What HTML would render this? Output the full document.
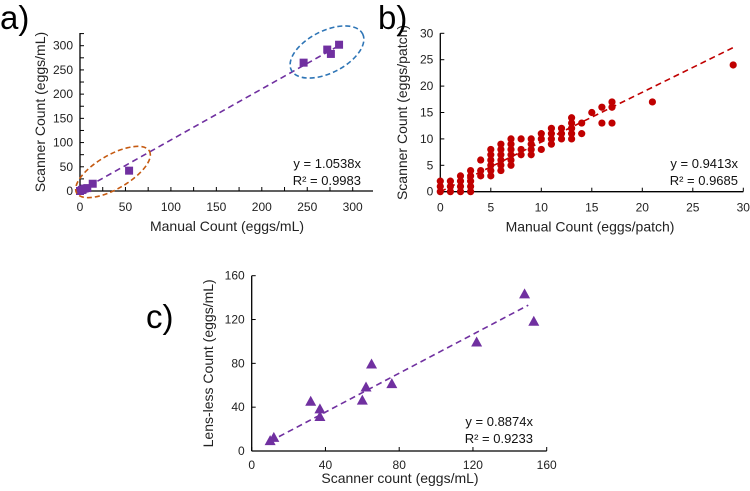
<!DOCTYPE html>
<html><head><meta charset="utf-8">
<style>
html,body{margin:0;padding:0;background:#fff;}
svg{display:block;font-family:"Liberation Sans","DejaVu Sans",sans-serif;}
</style></head>
<body>
<svg id="chart" width="750" height="491" viewBox="0 0 750 491"></svg>
<script>
// ---- Panel a data ----
const aManual = [0, 2, 3, 5, 8, 14, 54, 246, 272, 276, 285];
const aScanner = [0, 2, 3, 5, 6, 15, 42, 265, 292, 283, 302];
const aTicks = [0, 50, 100, 150, 200, 250, 300];
const aSlope = 1.0538;
// ---- Panel b data ----
const bManual = [0,0,0, 1,1,1, 2,2,2,2, 3,3,3,3,3, 4,4,4, 5,5,5,5,5,5, 6,6,6,6,6,6, 7,7,7,7,7,7, 8,8,8, 9,9,9,9, 10,10,10, 11,11,11,11, 12,12,12, 13,13,13,13,13, 14,14, 15, 16,16, 17,17,17, 21, 29];
const bScanner = [0,1,2, 0,1,2, 0,1,2,3, 0,1,2,3,4, 3,4,6, 3,4,5,6,7,8, 4,5,6,7,8,9, 5,6,7,8,9,10, 7,8,10, 7,8,9,10, 8,10,11, 9,10,11,12, 10,11,12, 10,11,12,13,14, 11,13, 15, 13,16, 13,16,17, 17, 24];
const bTicks = [0, 5, 10, 15, 20, 25, 30];
const bSlope = 0.9413;
// ---- Panel c data ----
const cScanner = [10, 12, 32, 37, 37, 60, 62, 65, 76, 122, 148, 153];
const cLensless = [9, 12, 45, 38, 31, 46, 58, 79, 61, 99, 143, 118];
const cTicks = [0, 40, 80, 120, 160];
const cSlope = 0.8874;

const NS = "http://www.w3.org/2000/svg";
const svg = document.getElementById("chart");
function mk(tag, attrs, parent) {
  const e = document.createElementNS(NS, tag);
  for (const k in attrs) e.setAttribute(k, attrs[k]);
  (parent || svg).appendChild(e);
  return e;
}
function txt(s, attrs, parent) { const e = mk("text", attrs, parent); e.textContent = s; return e; }

function panel(o) {
  const g = mk("g", {});
  
  
  const sx = v => o.x0 + (v - 0) / o.max * (o.x1 - o.x0);
  const sy = v => o.y0 - v / o.max * (o.y0 - o.y1);
  const ax = mk("line", {x1:o.x0, y1:o.y0, x2:o.xEnd, y2:o.y0, stroke:"#000", "stroke-width":1.3}, g);
  
  
  const ay = mk("line", {x1:o.x0, y1:o.y0, x2:o.x0, y2:o.yEnd, stroke:"#000", "stroke-width":1.3}, g);
  
  
  const step = o.ticks[1] - o.ticks[0];
  const minor = o.minor ? step / 2 : step;
  for (let v = 0; sx(v) <= o.xEnd + 0.5; v += minor) {
    mk("line", {x1:sx(v), y1:o.y0, x2:sx(v), y2:o.y0 - 4, stroke:"#000"}, g);
  }
  for (let v = 0; sy(v) >= o.yEnd - 0.5; v += minor) {
    mk("line", {x1:o.x0, y1:sy(v), x2:o.x0 + 4, y2:sy(v), stroke:"#000"}, g);
  }
  o.ticks.forEach(v => {
    const tx = txt(String(v), {x:sx(v), y:o.y0 + o.tickOff, "font-size":12, fill:"#222", "text-anchor":"middle"}, g);
    
    
    const ty = txt(String(v), {x:o.x0 - 7, y:sy(v) + 4, "font-size":12, fill:"#222", "text-anchor":"end"}, g);
    
    
  });
  const xt = txt(o.xTitle, {x:o.xtx, y:o.y0 + o.titleOff, "font-size":14, fill:"#222", "text-anchor":"middle"}, g);
  
  
  const yt = txt(o.yTitle, {x:0, y:0, "font-size":14, fill:"#222", "text-anchor":"middle", transform:`translate(${o.ytx},${(o.y0 + o.yEnd) / 2}) rotate(-90)`}, g);
  
  
  const tl = mk("line", {x1:sx(o.tl0), y1:sy(o.tl0 * o.slope), x2:sx(o.tl1), y2:sy(o.tl1 * o.slope), stroke:o.tColor, "stroke-width":1.6, "stroke-dasharray":"6,4"}, g);
  
  
  o.xs.forEach((xv, i) => {
    const px = sx(xv), py = sy(o.ys[i]);
    let p;
    if (o.shape === "square") p = mk("rect", {x:px - 4, y:py - 4, width:8, height:8, fill:o.color}, g);
    else if (o.shape === "circle") p = mk("circle", {cx:px, cy:py, r:3.6, fill:o.color}, g);
    else p = mk("polygon", {points:`${px},${py - 6} ${px - 5.5},${py + 4} ${px + 5.5},${py + 4}`, fill:o.color}, g);
    
    
  });
  const e1 = txt(o.eq, {x:o.eqx, y:o.eqy, "font-size":13, fill:"#111", "text-anchor":"end"}, g);
  
  
  const e2 = txt(o.r2, {x:o.eqx, y:o.eqy + 17, "font-size":13, fill:"#111", "text-anchor":"end"}, g);
  
  
  const pl = txt(o.letter, {x:o.lx, y:o.ly, "font-size":33, fill:"#000"}, g);
  
  
  return g;
}

const ga = panel({name:"panel-a-chart", x0:80, y0:191, x1:352.7, y1:45.7, max:300, xEnd:373, yEnd:33, minor:true,
  ticks:aTicks, xs:aManual, ys:aScanner, slope:aSlope, tl0:0, tl1:285, shape:"square", color:"#7030a0", tColor:"#7030a0",
  xTitle:"Manual Count (eggs/mL)", yTitle:"Scanner Count (eggs/mL)", xtx:227, ytx:45, tickOff:20, titleOff:40,
  eq:"y = 1.0538x", r2:"R² = 0.9983", eqx:361, eqy:168, letter:"a)", lx:0, ly:29});
const eb = mk("ellipse", {cx:327, cy:52, rx:40, ry:21, transform:"rotate(-27 327 52)", fill:"none", stroke:"#2e75b6", "stroke-width":1.6, "stroke-dasharray":"5,3"}, ga);


const eo = mk("ellipse", {cx:113, cy:172, rx:42, ry:17, transform:"rotate(-30 113 172)", fill:"none", stroke:"#c55a11", "stroke-width":1.6, "stroke-dasharray":"5,3"}, ga);



panel({name:"panel-b-chart", x0:440.3, y0:191.7, x1:743.3, y1:33.3, max:30, xEnd:743.3, yEnd:33.3, minor:false,
  ticks:bTicks, xs:bManual, ys:bScanner, slope:bSlope, tl0:0, tl1:29, shape:"circle", color:"#c00000", tColor:"#c00000",
  xTitle:"Manual Count (eggs/patch)", yTitle:"Scanner Count (eggs/patch)", xtx:590, ytx:407, tickOff:20, titleOff:40,
  eq:"y = 0.9413x", r2:"R² = 0.9685", eqx:738, eqy:168, letter:"b)", lx:378, ly:29});

panel({name:"panel-c-chart", x0:251.7, y0:451, x1:546.7, y1:275.7, max:160, xEnd:546.7, yEnd:275.7, minor:false,
  ticks:cTicks, xs:cScanner, ys:cLensless, slope:cSlope, tl0:10, tl1:150, shape:"triangle", color:"#7030a0", tColor:"#7030a0",
  xTitle:"Scanner count (eggs/mL)", yTitle:"Lens-less Count (eggs/mL)", xtx:400, ytx:213, tickOff:18, titleOff:32,
  eq:"y = 0.8874x", r2:"R² = 0.9233", eqx:533, eqy:426, letter:"c)", lx:146, ly:328});
</script>
</body></html>
